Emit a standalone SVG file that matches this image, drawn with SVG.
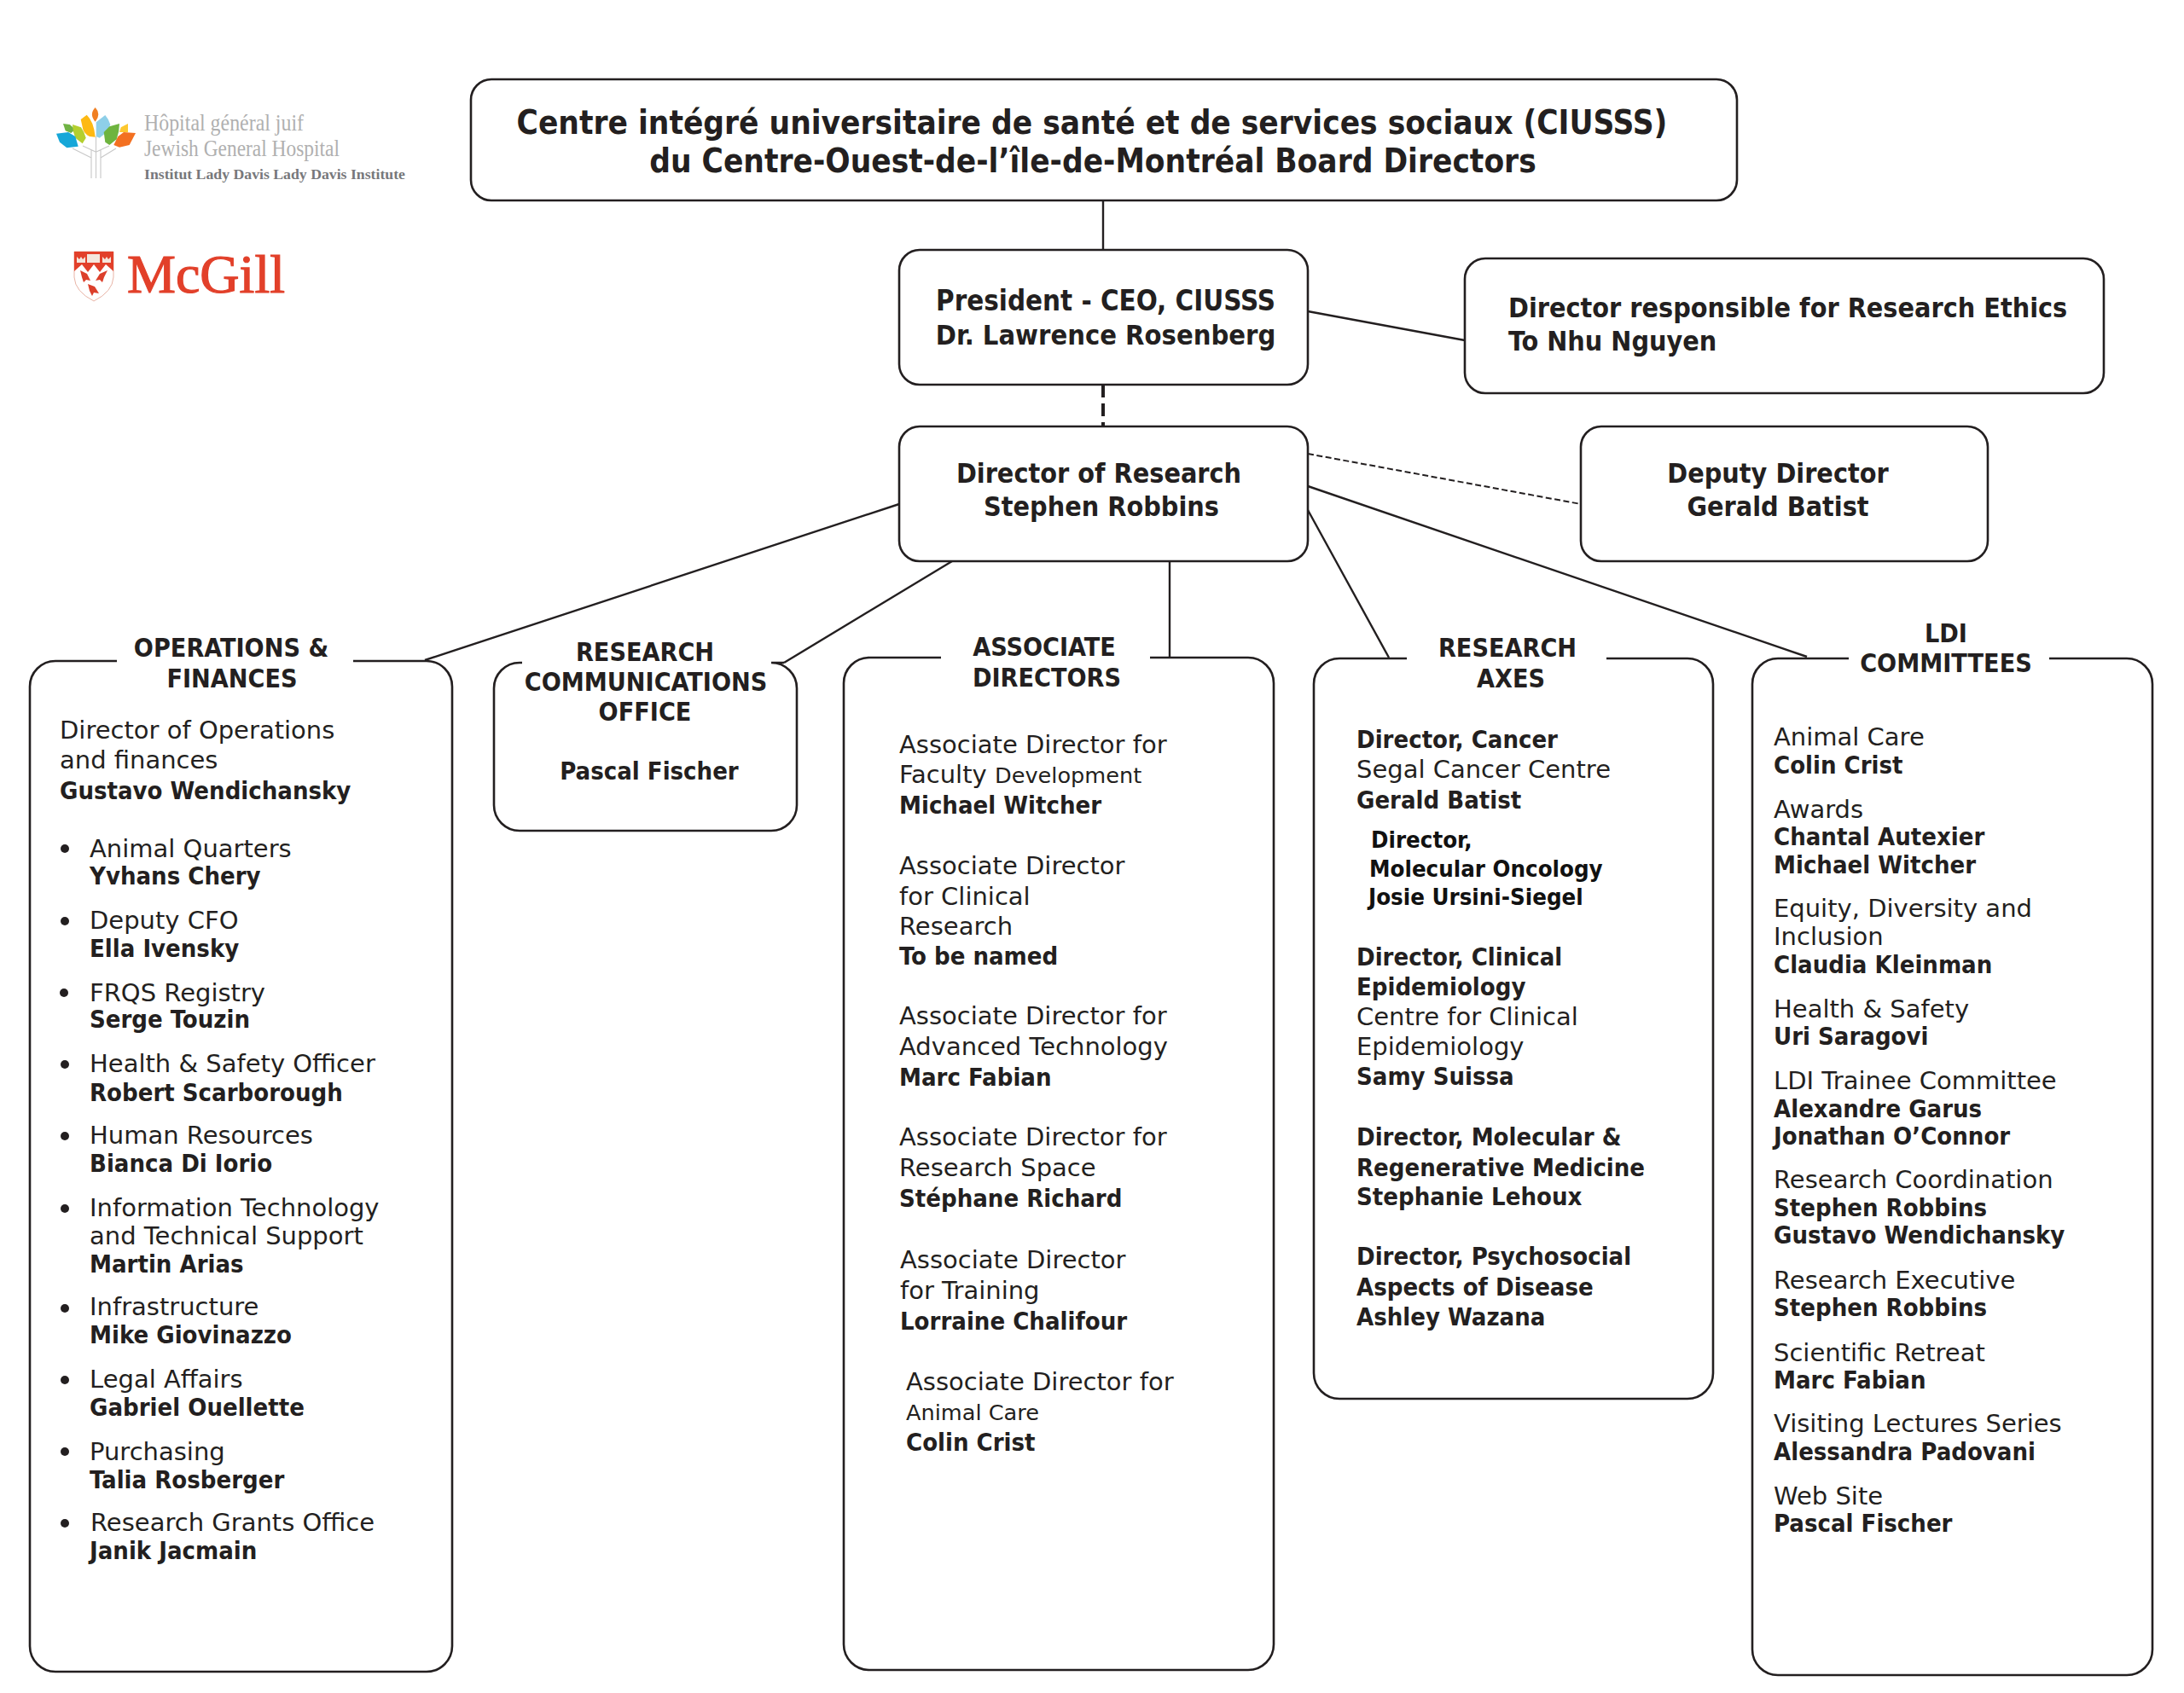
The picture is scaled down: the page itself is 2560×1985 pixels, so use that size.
<svg xmlns="http://www.w3.org/2000/svg" width="2560" height="1985" viewBox="0 0 2560 1985">
<style>
text{font-family:"DejaVu Sans",sans-serif;fill:#231f20;font-size:29px}
.b{font-family:"DejaVu Sans Condensed","DejaVu Sans",sans-serif;font-weight:700}
.h{font-family:"DejaVu Sans Condensed","DejaVu Sans",sans-serif;font-weight:700;text-anchor:middle;font-size:30.200px}
.t{font-family:"DejaVu Sans Condensed","DejaVu Sans",sans-serif;font-weight:700;font-size:32px}
.big{font-size:38.400px}
.m{text-anchor:middle}
.s{font-size:25.600px}
.bs{font-size:27.400px;fill:#111}
.lg{font-family:"Liberation Serif",serif}
.box{fill:#fff;stroke:#231f20;stroke-width:2.6}
.c{fill:none;stroke:#231f20;stroke-width:2.4}
.stem{fill:none;stroke:#c8c8c8;stroke-width:1.100}
</style>
<rect width="2560" height="1985" fill="#fff"/>
<g id="logo-jgh">
<path class="stem" d="M107 176V209M112.500 160V209M118 176V209M85 174L107 185M97 171L112 178M136 174L118 185M128 171L113 178"/>
<path d="M94.700 140L101.700 134.700Q106 139 108.300 145Q111 152 111.700 160.700L105 160Q99 157 97.300 151.700Z" fill="#fdb913"/>
<path d="M112.700 160V143.300L123.300 135Q127 139 129.300 146Q128 151 125 155L116.700 161.700Z" fill="#8ecfe8"/>
<path d="M111.700 126Q119 134 111.700 142.700Q104 134 111.700 126Z" fill="#f07f22"/>
<path d="M74 145L81.700 146L88.300 151.700L83.300 156L76.700 153.300Z" fill="#70b344"/>
<path d="M150 145L141.700 149.300L140 155L150 155Z" fill="#fdc82f"/>
<path d="M85 146L95 149.300Q99 155 100.700 161.700L96.700 168.300L88.300 161.700Q85 154 85 146Z" fill="#b4cf2e"/>
<path d="M140 145L128.300 148.300L121.700 155L123.300 166.700L128.300 170L136.700 163.300Q140 154 140 145Z" fill="#6eb43f"/>
<path d="M66 156.700L80 155L88.300 160L91.700 171.700L78.300 173.300L70 166.700Z" fill="#16a7d8"/>
<path d="M159 156L145 155L138.300 160L133.300 170L140 172.700L151.700 170Z" fill="#f37021"/>
<text class="lg" x="169" y="153" textLength="187" lengthAdjust="spacingAndGlyphs" style="font-family:'Liberation Serif',serif;font-size:27px;fill:#b0b0b0">Hôpital général juif</text>
<text class="lg" x="169" y="183" textLength="229" lengthAdjust="spacingAndGlyphs" style="font-family:'Liberation Serif',serif;font-size:27px;fill:#b0b0b0">Jewish General Hospital</text>
<text class="lg" x="169" y="210" textLength="306" lengthAdjust="spacingAndGlyphs" style="font-family:'Liberation Serif',serif;font-size:17px;font-weight:700;fill:#77787b">Institut Lady Davis Lady Davis Institute</text>
</g>
<g id="logo-mcgill">
<path d="M87 295H133V325Q132 342 110 353Q88 342 87 325Z" fill="#fff" stroke="#e8b4a6" stroke-width="1"/>
<path d="M87 295H133V318L124 310L117 319L110 310L103 319L96 310L87 318Z" fill="#e2402a"/>
<rect x="102" y="298" width="15" height="10" fill="#f4e6dc"/>
<path d="M90 301L93 304L95 301L97 304L100 301V308H90ZM120 301L123 304L125 301L127 304L130 301V308H120Z" fill="#f4e6dc"/>
<path d="M94 317L102 321L106 329L101 328L98 331L96 325ZM126 317L117 321L112 329L117 328L120 331L122 325ZM103 333L111 336L116 344L110 343L108 347L105 341Z" fill="#dc3f2b"/>
<text class="lg" x="149" y="343" textLength="185" lengthAdjust="spacingAndGlyphs" style="font-family:'Liberation Serif',serif;font-size:64px;fill:#e2402a;stroke:#e2402a;stroke-width:1.200">McGill</text>
</g>
<g id="connectors">
<path class="c" d="M1293 235V293M1533 365L1717 399M1054 591L498 774M1116 658L919 777M1371 658V770M1533 598L1628 771M1533 570L2118 770"/>
<path class="c" d="M1293 451V500" stroke-dasharray="15 7" style="stroke-width:4"/>
<path class="c" d="M1533 532L1853 591" stroke-dasharray="7 3.500" style="stroke-width:2"/>
</g>
<g id="title"><rect class="box" x="552" y="93" width="1484" height="142" rx="24"/>
<text class="t big m" x="1280" y="157">Centre intégré universitaire de santé et de services sociaux (CIUSSS)</text>
<text class="t big m" x="1281" y="202">du Centre-Ouest-de-l’île-de-Montréal Board Directors</text></g>
<g id="president"><rect class="box" x="1054" y="293" width="479" height="158" rx="24"/>
<text class="t m" x="1296" y="364" style="font-size:32.800px">President - CEO, CIUSSS</text>
<text class="t m" x="1296" y="404" style="font-size:32.400px">Dr. Lawrence Rosenberg</text></g>
<g id="ethics"><rect class="box" x="1717" y="303" width="749" height="158" rx="24"/>
<text class="t" x="1768" y="372">Director responsible for Research Ethics</text>
<text class="t" x="1768" y="411">To Nhu Nguyen</text></g>
<g id="director"><rect class="box" x="1054" y="500" width="479" height="158" rx="24"/>
<text class="t m" x="1288" y="566">Director of Research</text>
<text class="t m" x="1291" y="605">Stephen Robbins</text></g>
<g id="deputy"><rect class="box" x="1853" y="500" width="477" height="158" rx="24"/>
<text class="t m" x="2084" y="566">Deputy Director</text>
<text class="t m" x="2084" y="605">Gerald Batist</text></g>
<g id="operations">
<path class="box" d="M137 775H65a30 30 0 0 0-30 30V1930a30 30 0 0 0 30 30H500a30 30 0 0 0 30-30V805a30 30 0 0 0-30-30H414"/>
<text class="h" x="271" y="770">OPERATIONS &amp;</text><text class="h" x="272" y="806">FINANCES</text>
<text x="70" y="866">Director of Operations</text><text x="70" y="901">and finances</text><text class="b" x="70" y="937">Gustavo Wendichansky</text>
<g fill="#231f20"><circle cx="76" cy="995" r="5"/><circle cx="76" cy="1080" r="5"/><circle cx="75" cy="1164" r="5"/><circle cx="76" cy="1248" r="5"/><circle cx="76" cy="1332" r="5"/><circle cx="76" cy="1417" r="5"/><circle cx="76" cy="1534" r="5"/><circle cx="76" cy="1618" r="5"/><circle cx="76" cy="1702" r="5"/><circle cx="76" cy="1786" r="5"/></g>
<text x="105" y="1005">Animal Quarters</text><text class="b" x="105" y="1037">Yvhans Chery</text>
<text x="105" y="1089">Deputy CFO</text><text class="b" x="105" y="1122">Ella Ivensky</text>
<text x="105" y="1174">FRQS Registry</text><text class="b" x="105" y="1205">Serge Touzin</text>
<text x="105" y="1257">Health &amp; Safety Officer</text><text class="b" x="105" y="1291">Robert Scarborough</text>
<text x="105" y="1341">Human Resources</text><text class="b" x="105" y="1374">Bianca Di Iorio</text>
<text x="105" y="1426">Information Technology</text><text x="105" y="1459">and Technical Support</text><text class="b" x="105" y="1492">Martin Arias</text>
<text x="105" y="1542">Infrastructure</text><text class="b" x="105" y="1575">Mike Giovinazzo</text>
<text x="105" y="1627">Legal Affairs</text><text class="b" x="105" y="1660">Gabriel Ouellette</text>
<text x="105" y="1712">Purchasing</text><text class="b" x="105" y="1745">Talia Rosberger</text>
<text x="106" y="1795">Research Grants Office</text><text class="b" x="105" y="1828">Janik Jacmain</text>
</g>
<g id="communications">
<path class="box" d="M612 777H609a30 30 0 0 0-30 30V944a30 30 0 0 0 30 30H904a30 30 0 0 0 30-30V807a30 30 0 0 0-30-30H919"/>
<text class="h" x="756" y="775">RESEARCH</text><text class="h" x="757" y="810">COMMUNICATIONS</text><text class="h" x="756" y="845">OFFICE</text>
<text class="b m" x="761" y="914">Pascal Fischer</text>
</g>
<g id="associates">
<path class="box" d="M1103 771H1019a30 30 0 0 0-30 30V1928a30 30 0 0 0 30 30H1463a30 30 0 0 0 30-30V801a30 30 0 0 0-30-30H1348"/>
<text class="h" x="1224" y="769">ASSOCIATE</text><text class="h" x="1227" y="805">DIRECTORS</text>
<text x="1054" y="883">Associate Director for</text><text x="1054" y="918">Faculty <tspan class="s">Development</tspan></text><text class="b" x="1054" y="954">Michael Witcher</text>
<text x="1054" y="1025">Associate Director</text><text x="1054" y="1061">for Clinical</text><text x="1054" y="1096">Research</text><text class="b" x="1054" y="1131">To be named</text>
<text x="1054" y="1201">Associate Director for</text><text x="1054" y="1237">Advanced Technology</text><text class="b" x="1054" y="1273">Marc Fabian</text>
<text x="1054" y="1343">Associate Director for</text><text x="1054" y="1379">Research Space</text><text class="b" x="1054" y="1415">Stéphane Richard</text>
<text x="1055" y="1487">Associate Director</text><text x="1055" y="1523">for Training</text><text class="b" x="1055" y="1559">Lorraine Chalifour</text>
<text x="1062" y="1630">Associate Director for</text><text class="s" x="1062" y="1665">Animal Care</text><text class="b" x="1062" y="1701">Colin Crist</text>
</g>
<g id="axes">
<path class="box" d="M1649 772H1570a30 30 0 0 0-30 30V1610a30 30 0 0 0 30 30H1978a30 30 0 0 0 30-30V802a30 30 0 0 0-30-30H1883"/>
<text class="h" x="1767" y="770">RESEARCH</text><text class="h" x="1771" y="806">AXES</text>
<text class="b" x="1590" y="877">Director, Cancer</text><text x="1590" y="912">Segal Cancer Centre</text><text class="b" x="1590" y="948">Gerald Batist</text>
<text class="b bs" x="1607" y="994">Director,</text><text class="b bs" x="1605" y="1028">Molecular Oncology</text><text class="b bs" x="1604" y="1061">Josie Ursini-Siegel</text>
<text class="b" x="1590" y="1132">Director, Clinical</text><text class="b" x="1590" y="1167">Epidemiology</text><text x="1590" y="1202">Centre for Clinical</text><text x="1590" y="1237">Epidemiology</text><text class="b" x="1590" y="1272">Samy Suissa</text>
<text class="b" x="1590" y="1343">Director, Molecular &amp;</text><text class="b" x="1590" y="1379">Regenerative Medicine</text><text class="b" x="1590" y="1413">Stephanie Lehoux</text>
<text class="b" x="1590" y="1483">Director, Psychosocial</text><text class="b" x="1590" y="1519">Aspects of Disease</text><text class="b" x="1590" y="1554">Ashley Wazana</text>
</g>
<g id="committees">
<path class="box" d="M2167 772H2084a30 30 0 0 0-30 30V1934a30 30 0 0 0 30 30H2493a30 30 0 0 0 30-30V802a30 30 0 0 0-30-30H2402"/>
<text class="h" x="2281" y="753">LDI</text><text class="h" x="2281" y="788">COMMITTEES</text>
<text x="2079" y="874">Animal Care</text><text class="b" x="2079" y="907">Colin Crist</text>
<text x="2079" y="959">Awards</text><text class="b" x="2079" y="991">Chantal Autexier</text><text class="b" x="2079" y="1024">Michael Witcher</text>
<text x="2079" y="1075">Equity, Diversity and</text><text x="2079" y="1108">Inclusion</text><text class="b" x="2079" y="1141">Claudia Kleinman</text>
<text x="2079" y="1193">Health &amp; Safety</text><text class="b" x="2079" y="1225">Uri Saragovi</text>
<text x="2079" y="1277">LDI Trainee Committee</text><text class="b" x="2079" y="1310">Alexandre Garus</text><text class="b" x="2079" y="1342">Jonathan O’Connor</text>
<text x="2079" y="1393">Research Coordination</text><text class="b" x="2079" y="1426">Stephen Robbins</text><text class="b" x="2079" y="1458">Gustavo Wendichansky</text>
<text x="2079" y="1511">Research Executive</text><text class="b" x="2079" y="1543">Stephen Robbins</text>
<text x="2079" y="1596">Scientific Retreat</text><text class="b" x="2079" y="1628">Marc Fabian</text>
<text x="2079" y="1679">Visiting Lectures Series</text><text class="b" x="2079" y="1712">Alessandra Padovani</text>
<text x="2079" y="1764">Web Site</text><text class="b" x="2079" y="1796">Pascal Fischer</text>
</g>
</svg>
